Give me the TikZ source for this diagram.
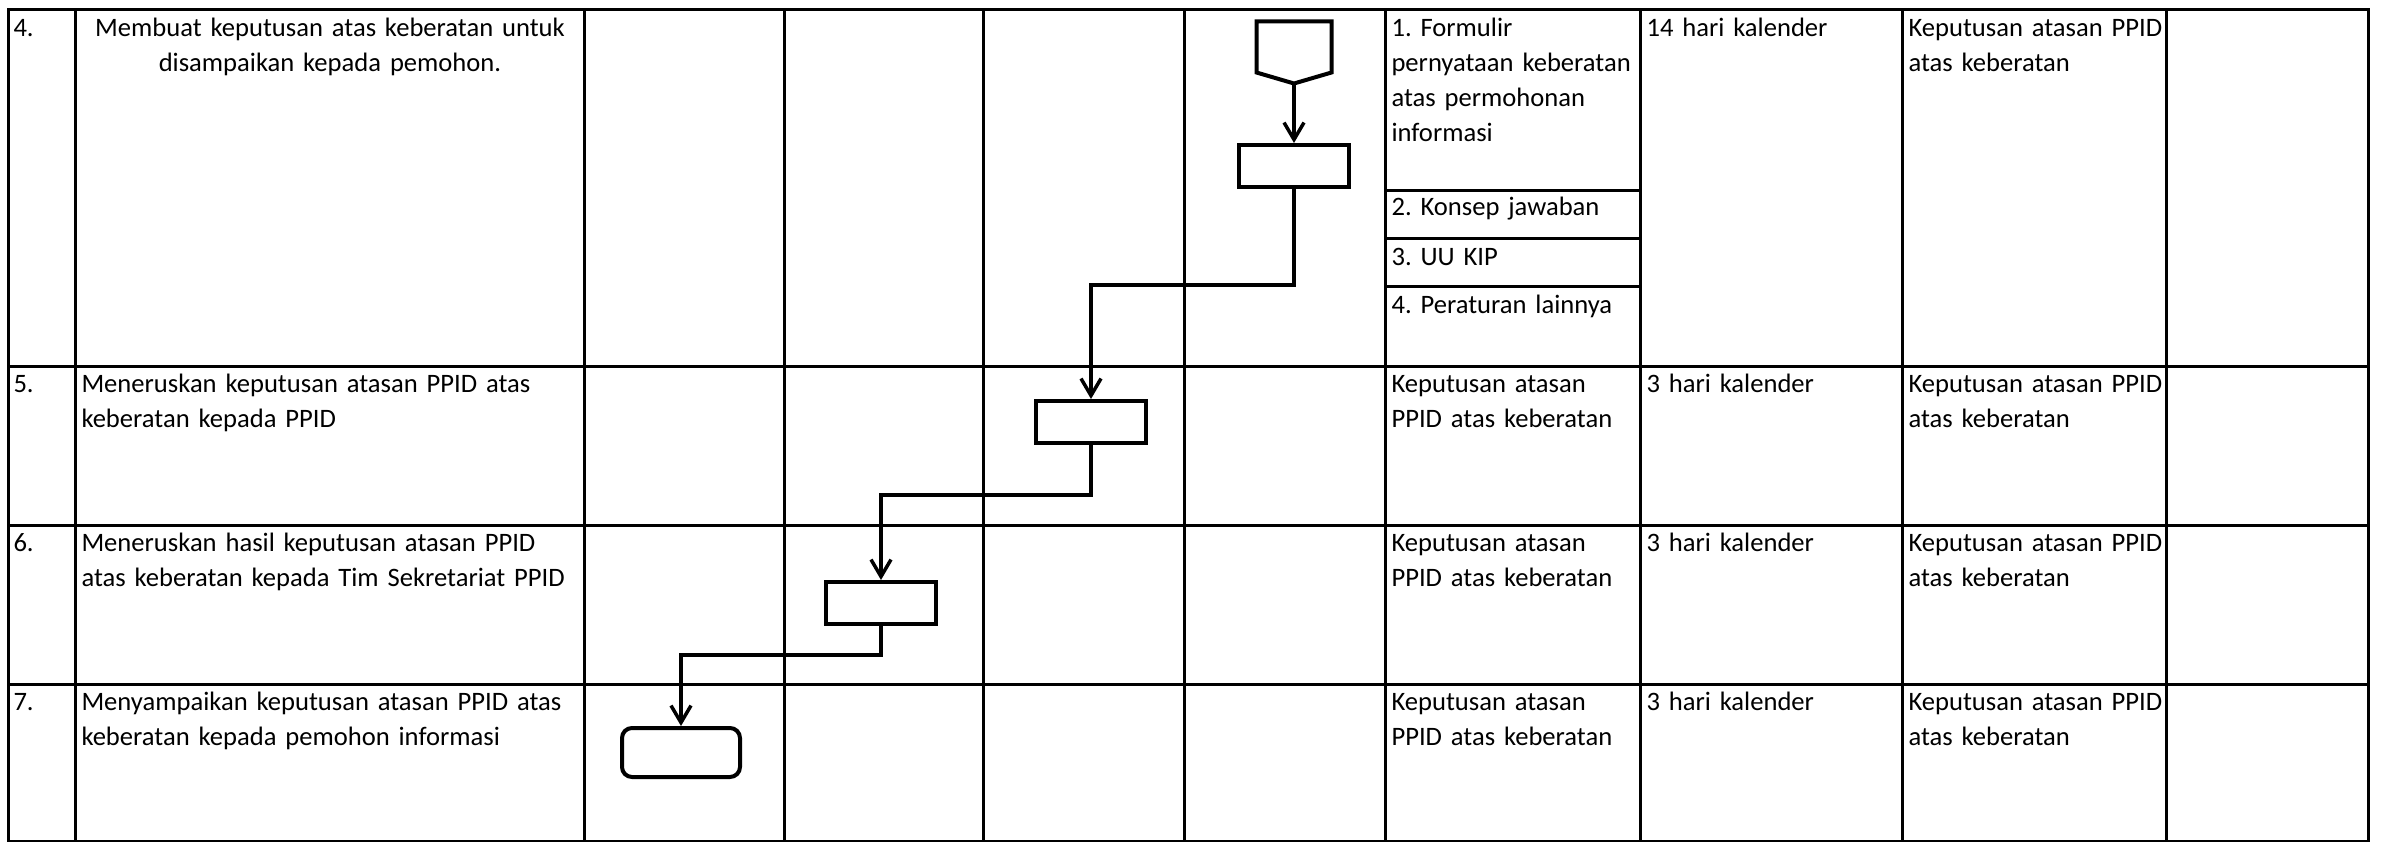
\documentclass[tikz,border=0pt]{standalone}
\usepackage{fontspec}
\setmainfont{Carlito}
\usetikzlibrary{arrows.meta}

\begin{document}
\begin{tikzpicture}[x=1pt,y=-1pt,line width=3pt,>={Straight Barb[length=17pt,width=20pt]}]
		\tikzstyle{cell}=[anchor=base west,inner sep=0pt,align=left,text width=520pt,font=\fontsize{26.6}{35}\selectfont\frenchspacing]
		\tikzstyle{proses}=[draw,line width=4pt,minimum width=110pt,minimum height=42pt,inner sep=0pt]
		\tikzstyle{alur}=[line width=3.5pt]
		
		\useasboundingbox (0,0) rectangle (2383,842);
		
		% tabel
		\draw (8,10) rectangle (2368,841);
		\draw (8,366) -- (2368,366);
		\draw (8,525) -- (2368,525);
		\draw (8,684) -- (2368,684);
		\draw (75,10) -- (75,841);
		\draw (584,10) -- (584,841);
		\draw (784,10) -- (784,841);
		\draw (983,10) -- (983,841);
		\draw (1184,10) -- (1184,841);
		\draw (1385,10) -- (1385,841);
		\draw (1640,10) -- (1640,841);
		\draw (1902,10) -- (1902,841);
		\draw (2166,10) -- (2166,841);
		\draw (1385,191) -- (1640,191);
		\draw (1385,239) -- (1640,239);
		\draw (1385,287) -- (1640,287);
		
		% baris 4
		\node[cell] (no4) at (12,37) {4.};
		\node[cell,anchor=base,align=center] (keg4) at (330,37) {Membuat keputusan atas keberatan untuk\\disampaikan kepada pemohon.};
		\node[cell] (dok4a) at (1390,37) {1. Formulir\\pernyataan keberatan\\atas permohonan\\informasi};
		\node[cell] (dok4b) at (1390,216) {2. Konsep jawaban};
		\node[cell] (dok4c) at (1390,266) {3. UU KIP};
		\node[cell] (dok4d) at (1390,314) {4. Peraturan lainnya};
		\node[cell] (waktu4) at (1645,37) {14 hari kalender};
		\node[cell] (out4) at (1907,37) {Keputusan atasan PPID\\atas keberatan};
		
		% baris 5
		\node[cell] (no5) at (12,392) {5.};
		\node[cell] (keg5) at (80,392) {Meneruskan keputusan atasan PPID atas\\keberatan kepada PPID};
		\node[cell] (dok5) at (1390,392) {Keputusan atasan\\PPID atas keberatan};
		\node[cell] (waktu5) at (1645,392) {3 hari kalender};
		\node[cell] (out5) at (1907,392) {Keputusan atasan PPID\\atas keberatan};
		
		% baris 6
		\node[cell] (no6) at (12,551) {6.};
		\node[cell] (keg6) at (80,551) {Meneruskan hasil keputusan atasan PPID\\atas keberatan kepada Tim Sekretariat PPID};
		\node[cell] (dok6) at (1390,551) {Keputusan atasan\\PPID atas keberatan};
		\node[cell] (waktu6) at (1645,551) {3 hari kalender};
		\node[cell] (out6) at (1907,551) {Keputusan atasan PPID\\atas keberatan};
		
		% baris 7
		\node[cell] (no7) at (12,710) {7.};
		\node[cell] (keg7) at (80,710) {Menyampaikan keputusan atasan PPID atas\\keberatan kepada pemohon informasi};
		\node[cell] (dok7) at (1390,710) {Keputusan atasan\\PPID atas keberatan};
		\node[cell] (waktu7) at (1645,710) {3 hari kalender};
		\node[cell] (out7) at (1907,710) {Keputusan atasan PPID\\atas keberatan};
		
		% bagan alir
		\node[minimum width=72pt,minimum height=59pt,inner sep=0pt] (mulai) at (1294,52.5) {};
		\draw[line width=4pt,line join=miter] (mulai.north west) -- (mulai.north east) -- ([yshift=11pt]mulai.south east) -- (mulai.south) -- ([yshift=11pt]mulai.south west) -- cycle;
		\node[proses] (p4) at (1294,166) {};
		\node[proses] (p5) at (1091,422) {};
		\node[proses] (p6) at (881,603) {};
		\node[proses,rounded corners=10pt,minimum width=118pt,minimum height=49pt] (p7) at (681,752.5) {};
		
		\coordinate (k45) at (1091,285);
		\coordinate (k56) at (881,495);
		\coordinate (k67) at (681,655);
		
		\draw[alur,->] (mulai.south) -- (p4.north);
		\draw[alur,->] (p4.south) |- (k45) -- (p5.north);
		\draw[alur,->] (p5.south) |- (k56) -- (p6.north);
		\draw[alur,->] (p6.south) |- (k67) -- (p7.north);

\end{tikzpicture}
\end{document}
